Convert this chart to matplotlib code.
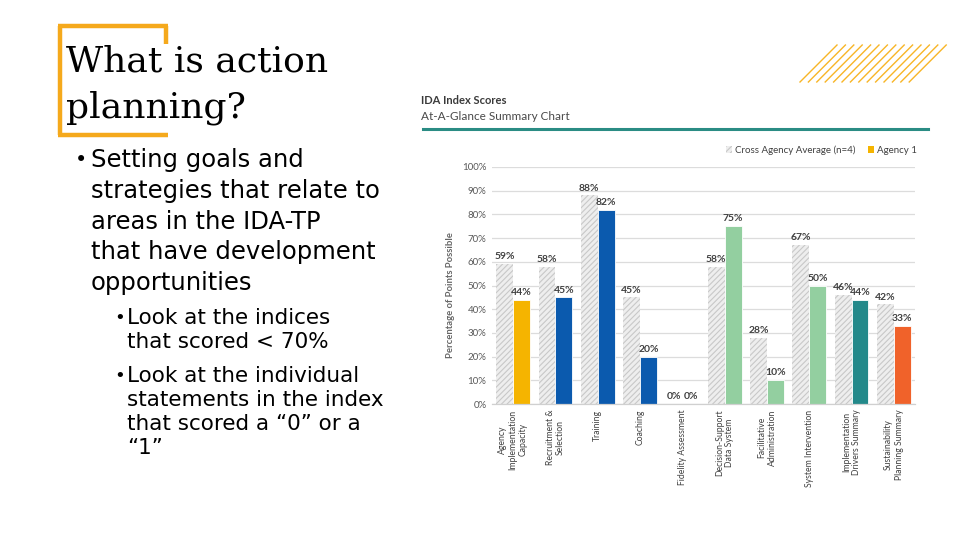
import matplotlib
matplotlib.use("Agg")
import matplotlib.pyplot as plt
import numpy as np
from matplotlib.patches import Patch
from matplotlib.lines import Line2D

categories = ["Agency\nImplementation\nCapacity", "Recruitment &\nSelection", "Training",
              "Coaching", "Fidelity Assessment", "Decision-Support\nData System",
              "Facilitative\nAdministration", "System Intervention",
              "Implementation\nDrivers Summary", "Sustainability\nPlanning Summary"]
cross_avg = [59, 58, 88, 45, 0, 58, 28, 67, 46, 42]
agency1 = [44, 45, 82, 20, 0, 75, 10, 50, 44, 33]
agency_colors = ["#F5B400", "#0B5AAE", "#0B5AAE", "#0B5AAE", "#0B5AAE", "#93CFA0",
                 "#93CFA0", "#93CFA0", "#23898A", "#F0622A"]
yticks = [0, 10, 20, 30, 40, 50, 60, 70, 80, 90, 100]

fig = plt.figure(figsize=(9.75, 5.39), dpi=100)
fig.patch.set_facecolor("white")

W, H = 975, 539
def fx(px): return px / W
def fy(py): return 1 - py / H

# ---- slide decorations ----
orange = "#F5A91C"
bracket = [((60, 135), (60, 26)), ((58, 26), (168, 26)), ((166, 26), (166, 44)), ((58, 135), (168, 135))]
for (x0, y0), (x1, y1) in bracket:
    fig.add_artist(Line2D([fx(x0), fx(x1)], [fy(y0), fy(y1)], color=orange, lw=3.2,
                          solid_capstyle="butt", transform=fig.transFigure))
for i in range(14):
    xb = 800 + i * 8.4
    fig.add_artist(Line2D([fx(xb), fx(xb + 37)], [fy(82), fy(45)], color="#F8B526", lw=1.0,
                          transform=fig.transFigure))

# title
fig.text(fx(66), fy(62), "What is action", fontsize=26, family="DejaVu Serif", va="center", ha="left", color="black")
fig.text(fx(66), fy(108), "planning?", fontsize=26, family="DejaVu Serif", va="center", ha="left", color="black")

# bullets
bfont = "DejaVu Sans"
lines1 = ["Setting goals and", "strategies that relate to", "areas in the IDA-TP",
          "that have development", "opportunities"]
y = 160
for i, t in enumerate(lines1):
    if i == 0:
        fig.text(fx(75), fy(y), "\u2022", fontsize=15, family=bfont, va="center", ha="left")
    fig.text(fx(91), fy(y), t, fontsize=17.5, family=bfont, va="center", ha="left")
    y += 30.8
sub = [("Look at the indices", True, 318), ("that scored < 70%", False, 342),
       ("Look at the individual", True, 376), ("statements in the index", False, 400),
       ("that scored a \u201c0\u201d or a", False, 424), ("\u201c1\u201d", False, 448)]
for t, b, yy in sub:
    if b:
        fig.text(fx(114), fy(yy), "\u2022", fontsize=13, family=bfont, va="center", ha="left")
    fig.text(fx(127), fy(yy), t, fontsize=15.5, family=bfont, va="center", ha="left")

# chart header
fig.text(fx(421), fy(100), "IDA Index Scores", fontsize=8, family="Lato", weight="bold",
         color="#3A3A3A", va="center", ha="left")
fig.text(fx(421), fy(116), "At-A-Glance Summary Chart", fontsize=8.5, family="Lato",
         color="#4A4A4A", va="center", ha="left")
fig.add_artist(Line2D([fx(423), fx(928)], [fy(129), fy(129)], color="#2A8C84", lw=2.2,
                      transform=fig.transFigure))

# ---- chart ----
ax = fig.add_axes([fx(492), fy(404), fx(915) - fx(492), fy(167) - fy(404)])
x = np.arange(len(categories))
w = 0.40
avg_vals = np.array(cross_avg) / 100
ag_vals = np.array(agency1) / 100
plt.rcParams["hatch.linewidth"] = 0.8
ax.bar(x - w / 2, avg_vals, w, facecolor="#EEEEEE", edgecolor="#C8C8C8", hatch="//////",
       linewidth=0, zorder=2)
ax.bar(x + w / 2, ag_vals, w, color=agency_colors, edgecolor="white", linewidth=0.6, zorder=2)

for xi, v in zip(x, cross_avg):
    ax.text(xi - w / 2, v / 100 + 0.012, f"{v}%", ha="center", va="bottom", fontsize=7.5,
            family="Lato", weight="bold", color="#404040")
for xi, v in zip(x, agency1):
    ax.text(xi + w / 2, v / 100 + 0.012, f"{v}%", ha="center", va="bottom", fontsize=7.5,
            family="Lato", weight="bold", color="#404040")

ax.set_xlim(-0.5, len(categories) - 0.5)
ax.set_ylim(0, 1.0)
ax.set_yticks([t / 100 for t in yticks])
ax.set_yticklabels([f"{t}%" for t in yticks], fontsize=7, family="Lato", color="#595959")
ax.set_xticks(x)
ax.set_xticklabels(categories, rotation=90, fontsize=6.2, family="Lato", color="#404040",
                   multialignment="center", va="top", ha="center")
ax.tick_params(axis="both", length=0, pad=4)
ax.yaxis.grid(True, color="#DCDCDC", lw=0.9, zorder=0)
ax.set_axisbelow(True)
for s in ["top", "right", "left"]:
    ax.spines[s].set_visible(False)
ax.spines["bottom"].set_color("#D0D0D0")
ax.spines["bottom"].set_linewidth(0.9)
ax.set_ylabel("Percentage of Points Possible", fontsize=6.8, family="Lato", weight="bold",
              color="#666666", labelpad=5)
ax.yaxis.set_label_coords(-0.088, 0.46)

handles = [Patch(facecolor="#EEEEEE", edgecolor="#C8C8C8", hatch="//////", linewidth=0,
                 label="Cross Agency Average (n=4)"),
           Patch(facecolor="#F5B400", label="Agency 1")]
leg = ax.legend(handles=handles, loc="center right", bbox_to_anchor=(fx(926), fy(150)),
                bbox_transform=fig.transFigure, ncol=2, frameon=False,
                handlelength=0.7, handleheight=0.7, handletextpad=0.3, columnspacing=1.2,
                prop={"family": "Lato", "size": 7})
for t in leg.get_texts():
    t.set_color("#404040")

fig.savefig("out.png", dpi=100, facecolor="white")
